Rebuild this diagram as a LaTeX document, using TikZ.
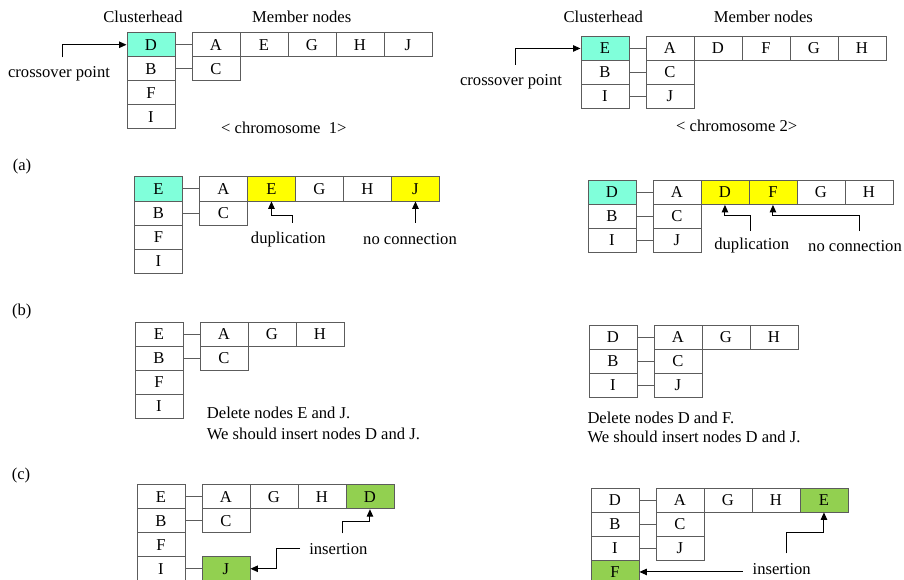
\documentclass[tikz,border=0pt]{standalone}
\usepackage{fontspec}
\setmainfont{Liberation Serif}
\usetikzlibrary{arrows.meta}
\definecolor{headc}{HTML}{80FFDA}
\definecolor{dupc}{HTML}{FFFF00}
\definecolor{insc}{HTML}{92D050}
\definecolor{boxline}{HTML}{5C5C5C}
\begin{document}
\begin{tikzpicture}[x=1pt,y=-1pt,
  every node/.style={font=\fontsize{16.6}{20}\selectfont, inner sep=1pt},
  cell/.style={draw=boxline, line width=0.9pt, minimum width=48pt, minimum height=24pt, inner sep=0pt, anchor=north west},
  conn/.style={draw=boxline, line width=0.9pt},
  arr/.style={draw=black, line width=1pt, -{Triangle[length=7.5pt,width=6.5pt]}}]
\useasboundingbox (0,0) rectangle (904,580);
\clip (0,0) rectangle (904,580);
\fill[white] (0,0) rectangle (904,580);

% ---------- chromosome 1 ----------
\foreach \t/\f [count=\i] in {D/headc,B/white,F/white,I/white}
  \node[cell,fill=\f] (ah\i) at (126.5,{32.3+24*(\i-1)}) {\t};
\foreach \t [count=\i] in {A,E,G,H,J}
  \node[cell] (am\i) at ({191.5+48*(\i-1)},32.3) {\t};
\node[cell] (ac) at (191.5,56.3) {C};
\draw[conn] (ah1.east) -- (am1.west);
\draw[conn] (ah2.east) -- (ac.west);
\node (acl) at (143,16.7) {Clusterhead};
\node (aml) at (301.7,16.7) {Member nodes};
\coordinate (acp) at (62.3,57.3);
\draw[arr] (acp) |- (ah1.west);
\node (acpl) at (59,74) {crossover point};
\node (achr) at (283.8,128) {< chromosome\ \ 1>};

% ---------- chromosome 2 ----------
\foreach \t/\f [count=\i] in {E/headc,B/white,I/white}
  \node[cell,fill=\f] (bh\i) at (580.5,{36+24*(\i-1)}) {\t};
\foreach \t [count=\i] in {A,D,F,G,H}
  \node[cell] (bm\i) at ({645.5+48*(\i-1)},36) {\t};
\node[cell] (bc) at (645.5,60) {C};
\node[cell] (bj) at (645.5,84) {J};
\draw[conn] (bh1.east) -- (bm1.west);
\draw[conn] (bh2.east) -- (bc.west);
\draw[conn] (bh3.east) -- (bj.west);
\node (bcl) at (603.3,17.3) {Clusterhead};
\node (bml) at (763.3,17.3) {Member nodes};
\coordinate (bcp) at (515.7,65);
\draw[arr] (bcp) |- (bh1.west);
\node (bcpl) at (511,81.7) {crossover point};
\node (bchr) at (736.7,126) {< chromosome 2>};

% ---------- (a) ----------
\node (la) at (22,166.7) {(a)};
\foreach \t/\f [count=\i] in {E/headc,B/white,F/white,I/white}
  \node[cell,fill=\f] (ch\i) at (134,{176.5+24*(\i-1)}) {\t};
\foreach \t/\f [count=\i] in {A/white,E/dupc,G/white,H/white,J/dupc}
  \node[cell,fill=\f] (cm\i) at ({199+48*(\i-1)},176.5) {\t};
\node[cell] (cc) at (199,200.5) {C};
\draw[conn] (ch1.east) -- (cm1.west);
\draw[conn] (ch2.east) -- (cc.west);
\coordinate (cd) at (292.7,222.7);
\draw[arr] (cd) -- ++(0,-7.7) -| (cm2.south);
\coordinate (cn) at (cm5.south |- cd);
\draw[arr] (cn) -- (cm5.south);
\node (cdl) at (288.3,239.3) {duplication};
\node (cnl) at (410,239.3) {no connection};

\foreach \t/\f [count=\i] in {D/headc,B/white,I/white}
  \node[cell,fill=\f] (dh\i) at (587.5,{180+24*(\i-1)}) {\t};
\foreach \t/\f [count=\i] in {A/white,D/dupc,F/dupc,G/white,H/white}
  \node[cell,fill=\f] (dm\i) at ({652.5+48*(\i-1)},180) {\t};
\node[cell] (dc) at (652.5,204) {C};
\node[cell] (dj) at (652.5,228) {J};
\draw[conn] (dh1.east) -- (dm1.west);
\draw[conn] (dh2.east) -- (dc.west);
\draw[conn] (dh3.east) -- (dj.west);
\coordinate (dd) at (750.7,231);
\draw[arr] (dd) -- ++(0,-16) -| (dm2.south);
\coordinate (dn) at (859.3,231);
\draw[arr] (dn) -- ++(0,-16) -| (dm3.south);
\node (ddl) at (751.7,246) {duplication};
\node (dnl) at (855,246) {no connection};

% ---------- (b) ----------
\node (lb) at (21.7,311.7) {(b)};
\foreach \t [count=\i] in {E,B,F,I}
  \node[cell] (eh\i) at (134.5,{321.7+24*(\i-1)}) {\t};
\foreach \t [count=\i] in {A,G,H}
  \node[cell] (em\i) at ({199.5+48*(\i-1)},321.7) {\t};
\node[cell] (ec) at (199.5,345.7) {C};
\draw[conn] (eh1.east) -- (em1.west);
\draw[conn] (eh2.east) -- (ec.west);
\node[anchor=west] (et1) at (205.7,413.3) {Delete nodes E and J.};
\node[anchor=west] (et2) at (205.7,434) {We should insert nodes D and J.};

\foreach \t [count=\i] in {D,B,I}
  \node[cell] (fh\i) at (588.5,{324.5+24*(\i-1)}) {\t};
\foreach \t [count=\i] in {A,G,H}
  \node[cell] (fm\i) at ({653.5+48*(\i-1)},324.5) {\t};
\node[cell] (fc) at (653.5,348.5) {C};
\node[cell] (fj) at (653.5,372.5) {J};
\draw[conn] (fh1.east) -- (fm1.west);
\draw[conn] (fh2.east) -- (fc.west);
\draw[conn] (fh3.east) -- (fj.west);
\node[anchor=west] (ft1) at (586.3,418.3) {Delete nodes D and F.};
\node[anchor=west] (ft2) at (586.3,437.3) {We should insert nodes D and J.};

% ---------- (c) ----------
\node (lc) at (21,476) {(c)};
\foreach \t [count=\i] in {E,B,F,I}
  \node[cell] (gh\i) at (136.5,{484.3+24*(\i-1)}) {\t};
\foreach \t/\f [count=\i] in {A/white,G/white,H/white,D/insc}
  \node[cell,fill=\f] (gm\i) at ({201.5+48*(\i-1)},484.3) {\t};
\node[cell] (gc) at (201.5,508.3) {C};
\node[cell,fill=insc] (gj) at (201.5,556.3) {J};
\draw[conn] (gh1.east) -- (gm1.west);
\draw[conn] (gh2.east) -- (gc.west);
\draw[conn] (gh4.east) -- (gj.west);
\coordinate (gi1) at (342.7,533.3);
\draw[arr] (gi1) -- ++(0,-11.6) -| (gm4.south);
\coordinate (gi2) at (300,548.3);
\draw[arr] (gi2) -- ++(-24,0) |- (gj.east);
\node (gil) at (338.3,549) {insertion};

\foreach \t/\f [count=\i] in {D/white,B/white,I/white,F/insc}
  \node[cell,fill=\f] (hh\i) at (590.5,{487.5+24*(\i-1)}) {\t};
\foreach \t/\f [count=\i] in {A/white,G/white,H/white,E/insc}
  \node[cell,fill=\f] (hm\i) at ({655.5+48*(\i-1)},487.5) {\t};
\node[cell] (hc) at (655.5,511.5) {C};
\node[cell] (hj) at (655.5,535.5) {J};
\draw[conn] (hh1.east) -- (hm1.west);
\draw[conn] (hh2.east) -- (hc.west);
\draw[conn] (hh3.east) -- (hj.west);
\coordinate (hi1) at (786.7,553.3);
\draw[arr] (hi1) -- ++(0,-20.6) -| (hm4.south);
\coordinate (hi2) at ([xshift=103.2pt]hh4.east);
\draw[arr] (hi2) -- (hh4.east);
\node (hil) at (781.7,569.3) {insertion};
\end{tikzpicture}
\end{document}
